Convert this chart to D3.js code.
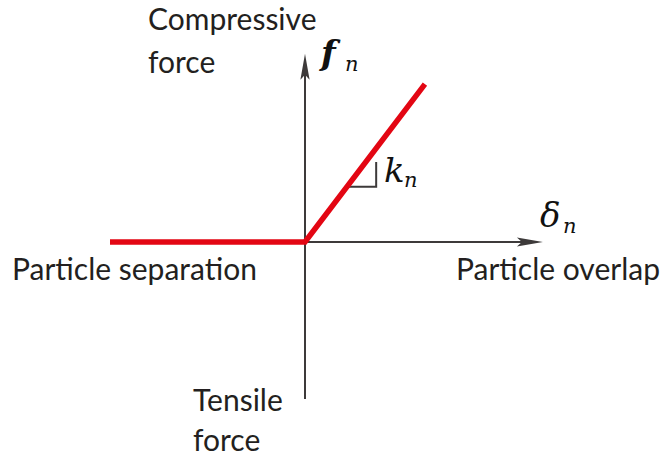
<!DOCTYPE html>
<html>
<head>
<meta charset="utf-8">
<script src="https://cdn.jsdelivr.net/npm/d3@7"></script>
<style>
  html, body { margin: 0; padding: 0; background: #ffffff; }
  svg { display: block; }
</style>
</head>
<body>
<svg id="chart" width="662" height="456"></svg>
<script>
// Normal contact law: no force while particles are separated,
// linear spring (stiffness k_n) once they overlap.
const overlap = [-1, 0, 0.615];   // δ_n, normalised
const force   = [0, 0, 0.81];     // f_n, normalised

// Axis extents (normalised units)
const xAxisSpan = [0, 1.22];
const yAxisSpan = [-0.805, 0.965];

// Slope marker drawn against the loading branch
const slopeMarker = { from: 0.215, to: 0.365, rise: 0.41 };

const svg = d3.select("#chart");

const x = d3.scaleLinear().domain([-1, 1]).range([110, 500]);
const y = d3.scaleLinear().domain([-1, 1]).range([437, 47]);

const axisColor = "#3d3a3a";
const lawColor = "#e30613";
const textColor = "#231f20";

// Arrowhead with a shallow notch, pointing along +x before rotation
function arrowHead(tx, ty, angle) {
  const pts = [[0, 0], [-26, -4.6], [-21, 0], [-26, 4.6]];
  const a = angle * Math.PI / 180;
  const p = pts.map(([px, py]) => [
    tx + px * Math.cos(a) - py * Math.sin(a),
    ty + px * Math.sin(a) + py * Math.cos(a)
  ]);
  return "M" + p.map(d => d.join(",")).join("L") + "Z";
}

// Axes
svg.append("line")
  .attr("x1", x(xAxisSpan[0])).attr("y1", y(0))
  .attr("x2", x(xAxisSpan[1]) - 20).attr("y2", y(0))
  .attr("stroke", axisColor).attr("stroke-width", 2);
svg.append("path")
  .attr("d", arrowHead(x(xAxisSpan[1]), y(0), 0))
  .attr("fill", axisColor);

svg.append("line")
  .attr("x1", x(0)).attr("y1", y(yAxisSpan[0]))
  .attr("x2", x(0)).attr("y2", y(yAxisSpan[1]) + 20)
  .attr("stroke", axisColor).attr("stroke-width", 2);
svg.append("path")
  .attr("d", arrowHead(x(0), y(yAxisSpan[1]), -90))
  .attr("fill", axisColor);

// Slope marker
const kSlope = force[2] / overlap[2];
svg.append("path")
  .attr("d", d3.line()([
    [x(slopeMarker.from), y(kSlope * slopeMarker.from)],
    [x(slopeMarker.to), y(kSlope * slopeMarker.from)],
    [x(slopeMarker.to), y(slopeMarker.rise)]
  ]))
  .attr("fill", "none").attr("stroke", axisColor).attr("stroke-width", 2);

// Contact law
const law = d3.range(overlap.length).map(i => [overlap[i], force[i]]);
svg.append("path")
  .datum(law)
  .attr("d", d3.line().x(d => x(d[0])).y(d => y(d[1])))
  .attr("fill", "none")
  .attr("stroke", lawColor)
  .attr("stroke-width", 5.5)
  .attr("stroke-linejoin", "miter");

// Text labels
const sans = "Lato, 'Open Sans', sans-serif";
function label(txt, px, py, anchor) {
  svg.append("text")
    .attr("x", px).attr("y", py)
    .attr("text-anchor", anchor || "start")
    .attr("font-family", sans)
    .attr("font-size", 30)
    .attr("fill", textColor)
    .text(txt);
}
label("Compressive", 148, 30);
label("force", 148, 73);
label("Particle separation", 12, 280);
label("Particle overlap", 456, 280);
label("Tensile", 193, 411);
label("force", 193, 451);

// Math symbols: main glyph plus a subscript placed beside it
const serif = "'DejaVu Serif', 'Liberation Serif', serif";
function mathLabel(sym, sub, px, py, sx, sy, bold) {
  svg.append("text")
    .attr("x", px).attr("y", py)
    .attr("font-family", serif)
    .attr("font-style", "italic")
    .attr("font-weight", bold ? "bold" : "normal")
    .attr("font-size", 34)
    .attr("fill", "#111")
    .text(sym);
  svg.append("text")
    .attr("x", sx).attr("y", sy)
    .attr("font-family", serif)
    .attr("font-style", "italic")
    .attr("font-size", 21)
    .attr("fill", "#111")
    .text(sub);
}
mathLabel("f", "n", 321, 65, 345, 71, true);
mathLabel("δ", "n", 540, 227, 563, 233, false);
mathLabel("k", "n", 384, 182, 404, 187, false);
</script>
</body>
</html>
